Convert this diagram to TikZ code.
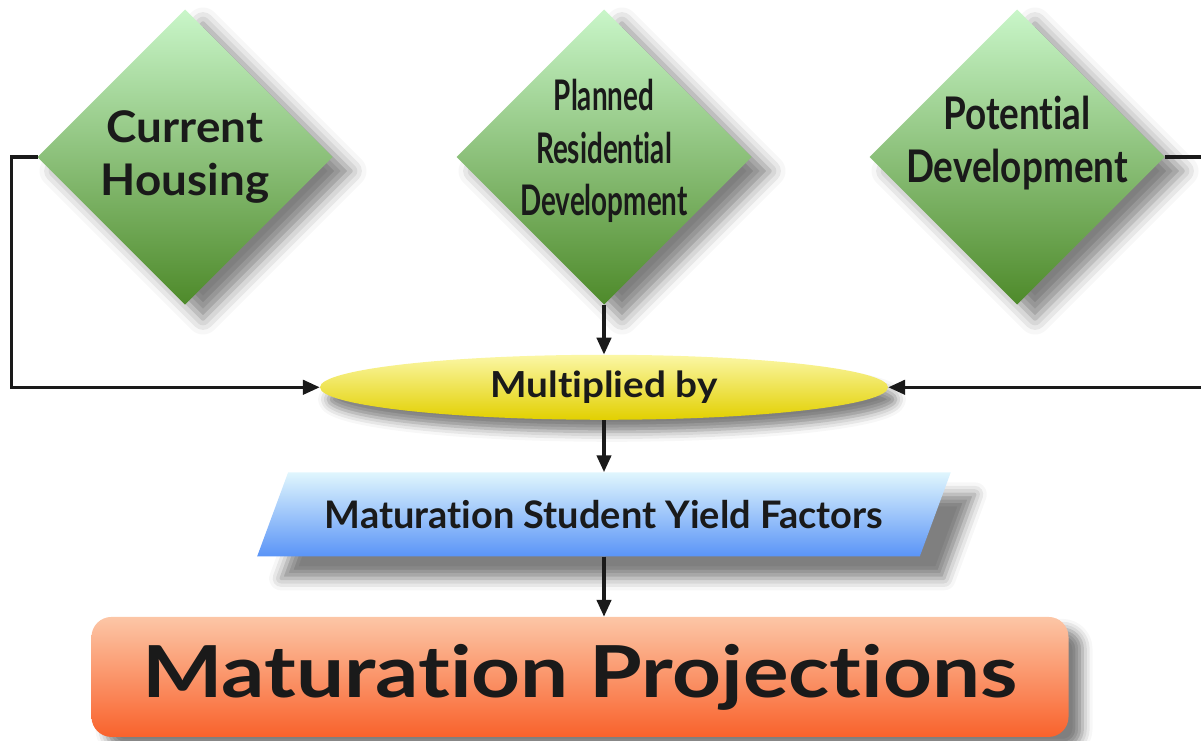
\documentclass[tikz,border=0pt]{standalone}
\usepackage{fontspec}
\setmainfont[Ligatures=NoCommon]{Lato}
\newfontfamily\narrowfont[Ligatures=NoCommon,FakeStretch=0.66]{Lato}
\newfontfamily\semifont[Ligatures=NoCommon,FakeStretch=0.82]{Lato}
\newfontfamily\wideA[Ligatures=NoCommon,FakeStretch=1.05]{Lato}
\newfontfamily\wideB[Ligatures=NoCommon,FakeStretch=1.08]{Lato}
\newfontfamily\wideC[Ligatures=NoCommon,FakeStretch=1.19]{Lato}
\usetikzlibrary{arrows.meta,%
                shapes.geometric,positioning}
\usetikzlibrary{shadows.blur}
\definecolor{leafTop}{HTML}{C9F6C9}
\definecolor{leafBot}{HTML}{4E8A2A}
\definecolor{sunTop}{HTML}{FBF7A6}
\definecolor{sunBot}{HTML}{E2D000}
\definecolor{skyTop}{HTML}{E0F6FD}
\definecolor{skyBot}{HTML}{5A94F7}
\definecolor{peachTop}{HTML}{FCC6A6}
\definecolor{peachBot}{HTML}{F9622C}
\definecolor{ink}{HTML}{1A1A1A}

\begin{document}
\begin{tikzpicture}[node distance=3.1cm]
\tikzset{DiamondStyle/.style = {shape          = diamond,
                                 inner sep      = 0pt,
                                 outer sep      = 0pt,
                                 minimum width  = 7.375cm,
                                 minimum height = 7.375cm,
                                 top color      = leafTop,
                                 bottom color   = leafBot,
                                 blur shadow    = {shadow xshift=0.45cm, shadow yshift=-0.35cm,
                                                   shadow blur radius=0.4cm, shadow opacity=50}},
         TextStyle/.style = {align=center, text=ink, inner sep=0pt},
         EdgeStyle/.style = {line width=2.2pt, draw=ink, -{Triangle[length=0.42cm,width=0.36cm]}}}
     \useasboundingbox (0,0) rectangle (30.025,-18.5);
     \node[DiamondStyle] (CH) at (4.625,-3.925) {};
     \node[DiamondStyle,right=of CH] (PRD) {};
     \node[DiamondStyle,right=2.95cm of PRD] (PD) {};
     \node[TextStyle,font=\wideA\bfseries\fontsize{31}{38}\selectfont] (CHtext) at (CH) {Current\\Housing};
     \node[TextStyle,font=\narrowfont\bfseries\fontsize{30}{37.5}\selectfont,yshift=0.15cm] (PRDtext) at (PRD) {Planned\\Residential\\Development};
     \node[TextStyle,font=\semifont\bfseries\fontsize{32}{38}\selectfont,yshift=0.35cm] (PDtext) at (PD) {Potential\\Development};
     % yellow step
     \node[shape=ellipse,inner sep=0pt,minimum width=14.2cm,minimum height=1.625cm,
           top color=sunTop,bottom color=sunBot,
           blur shadow={shadow xshift=0.2cm, shadow yshift=-0.3cm, shadow blur radius=0.25cm, shadow opacity=50},
           below=1.25cm of PRD] (MB) {};
     \node[TextStyle,font=\wideB\bfseries\fontsize{25.5}{30}\selectfont] (MBtext) at (MB) {Multiplied by};
     % blue factors
     \node[trapezium,trapezium left angle=51,trapezium right angle=129,trapezium stretches=true,
           inner sep=2pt,minimum width=17.425cm,minimum height=2.1cm,text=ink,
           font=\bfseries\fontsize{27}{31}\selectfont,
           top color=skyTop,bottom color=skyBot,
           blur shadow={shadow xshift=0.6cm, shadow yshift=-0.55cm, shadow blur radius=0.3cm, shadow opacity=50},
           below=1.3cm of MB] (SYF) {Maturation Student Yield Factors};
     % result
     \node[rectangle,rounded corners=0.5cm,inner sep=0pt,minimum width=24.425cm,minimum height=3cm,
           top color=peachTop,bottom color=peachBot,
           blur shadow={shadow xshift=0.35cm, shadow yshift=-0.3cm, shadow blur radius=0.25cm, shadow opacity=50},
           below=1.5cm of SYF,xshift=-0.6cm] (MP) {};
     \node[TextStyle,font=\wideC\bfseries\fontsize{51}{56}\selectfont] (MPtext) at (MP) {Maturation Projections};

     \draw[EdgeStyle](PRD.south) -- (MB.north);
     \draw[EdgeStyle](CH.west) -- ++(-0.65,0) |- (MB.west);
     \draw[EdgeStyle](PD.east) -- ++(1.5,0) |- (MB.east);
     \draw[EdgeStyle](MB.south) -- (SYF.north);
     \draw[EdgeStyle](SYF.south) -- (SYF.south |- MP.north);

  \end{tikzpicture}
\end{document}
